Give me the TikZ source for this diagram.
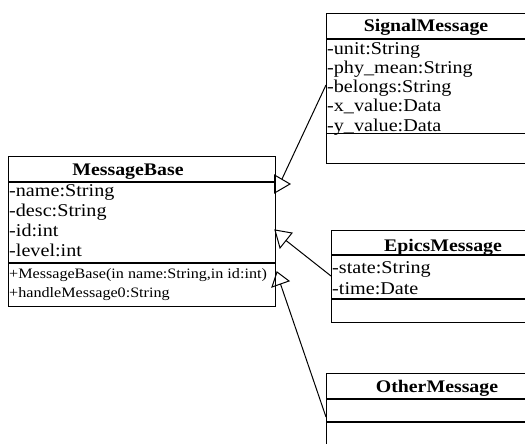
\documentclass[tikz,border=0pt]{standalone}
\usepackage{fontspec}
\setmainfont{Liberation Serif}[FakeStretch=1.12]
\begin{document}
\begin{tikzpicture}[x=1pt,y=-1pt,
  box/.style={draw,line width=1.2pt,rectangle,inner sep=0pt,anchor=north west},
  sep/.style={line width=1.2pt},
  conn/.style={line width=1pt},
  tri/.style={line width=1pt,line join=miter},
  ttl/.style={inner sep=0pt,anchor=base,font=\bfseries\fontsize{17.7}{20}\selectfont},
  attr/.style={inner sep=0pt,anchor=base west,font=\fontsize{18}{20}\selectfont},
  meth/.style={inner sep=0pt,anchor=base west,font=\fontsize{14.4}{16}\selectfont}]
\clip (0,0) rectangle (525,444);
\fill[white] (0,0) rectangle (525,444);

% MessageBase
\node[box,minimum width=267pt,minimum height=150pt] (base) at (8,156) {};
\draw[sep] (8,182) -- (275,182);
\draw[sep] (8,263) -- (275,263);
\node[ttl] (baseT) at (128,175) {MessageBase};
\node[attr] (b1) at (9,196.5) {-name:String};
\node[attr] (b2) at (9,216.5) {-desc:String};
\node[attr] (b3) at (9,236.5) {-id:int};
\node[attr] (b4) at (9,256.5) {-level:int};
\node[meth] (m1) at (9,278) {+MessageBase(in name:String,in id:int)};
\node[meth] (m2) at (9,297) {+handleMessage0:String};

% SignalMessage
\node[box,minimum width=230pt,minimum height=150pt] (sig) at (326,13) {};
\draw[sep] (326,39) -- (540,39);
\draw[sep] (326,133.5) -- (540,133.5);
\node[ttl] (sigT) at (426,31.7) {SignalMessage};
\node[attr] (s1) at (327,54.3) {-unit:String};
\node[attr] (s2) at (327,73.5) {-phy\_mean:String};
\node[attr] (s3) at (327,92.7) {-belongs:String};
\node[attr] (s4) at (327,111.9) {-x\_value:Data};
\node[attr] (s5) at (327,131) {-y\_value:Data};

% EpicsMessage
\node[box,minimum width=230pt,minimum height=92pt] (epi) at (331,230) {};
\draw[sep] (331,255) -- (560,255);
\draw[sep] (331,299) -- (560,299);
\node[ttl] (epiT) at (443,251.7) {EpicsMessage};
\node[attr] (e1) at (332,273.3) {-state:String};
\node[attr] (e2) at (332,294) {-time:Date};

% OtherMessage
\node[box,minimum width=230pt,minimum height=100pt] (oth) at (326,373) {};
\draw[sep] (326,399) -- (560,399);
\draw[sep] (326,422) -- (560,422);
\node[ttl] (othT) at (437,392.3) {OtherMessage};

% generalization heads
\coordinate (t1a) at (274.5,175); \coordinate (t1b) at (290,184); \coordinate (t1c) at (274.5,193);
\coordinate (t2a) at (275,230); \coordinate (t2b) at (292,233); \coordinate (t2c) at (280,248);
\coordinate (t3a) at (272,287); \coordinate (t3b) at (277,272); \coordinate (t3c) at (289,281);
\draw[tri] (t1a) -- (t1b) -- (t1c) -- cycle;
\draw[tri] (t2a) -- (t2b) -- (t2c) -- cycle;
\draw[tri] (t3a) -- (t3b) -- (t3c) -- cycle;
\coordinate (h1) at (282,179);
\coordinate (h2) at (286,240.5);
\coordinate (h3) at (280.5,284);
\coordinate (sigP) at (326,85);
\coordinate (epiP) at (331,276);
\coordinate (othP) at (326,417);
\draw[conn] (sigP) -- (h1);
\draw[conn] (epiP) -- (h2);
\draw[conn] (othP) -- (h3);
\end{tikzpicture}
\end{document}
